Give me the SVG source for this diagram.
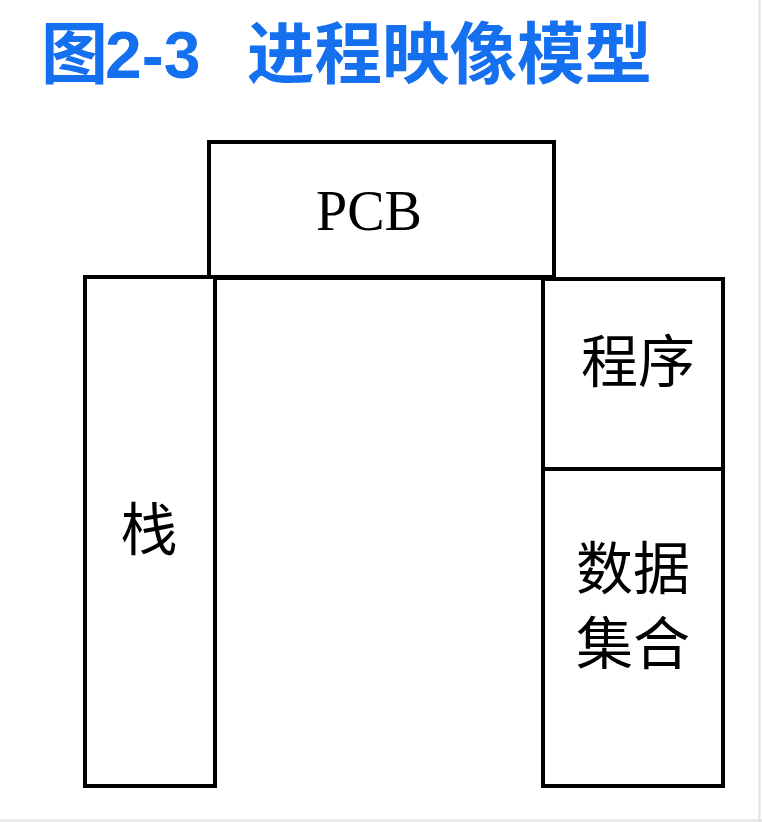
<svg xmlns="http://www.w3.org/2000/svg" width="762" height="822" viewBox="0 0 762 822">
<style>
.box{fill:none;stroke:#000;stroke-width:4}
.title{font-family:"Liberation Sans","Noto Sans CJK SC",sans-serif;font-weight:bold;font-size:66px;fill:#1570EF}
.cjk{font-family:"Noto Sans CJK SC",sans-serif;font-size:57px;fill:#000;text-anchor:middle}
.lat{font-family:"Liberation Serif",serif;font-size:56px;fill:#000;text-anchor:middle}
</style>
<rect x="0" y="0" width="762" height="822" fill="#fff"/>
<line x1="759.5" y1="0" x2="759.5" y2="822" stroke="#e2e2e2" stroke-width="2"/>
<line x1="0" y1="820.5" x2="762" y2="820.5" stroke="#e2e2e2" stroke-width="2"/>
<text class="title" y="78"><tspan x="41" font-size="67">图</tspan><tspan x="105">2-3</tspan><tspan x="247" font-size="67.5">进程映像模型</tspan></text>
<g id="connectors"></g>
<g id="pcb">
<rect class="box" x="209" y="142" width="345" height="135"/>
<text class="lat" x="369" y="230">PCB</text>
</g>
<g id="stack">
<rect class="box" x="85" y="277" width="130" height="509"/>
<text class="cjk" x="149" y="550">栈</text>
</g>
<g id="gap">
<line class="box" x1="215" y1="278" x2="543" y2="278"/>
</g>
<g id="program">
<rect class="box" x="543" y="279" width="180" height="190"/>
<text class="cjk" x="638" y="382">程序</text>
</g>
<g id="data">
<rect class="box" x="543" y="469" width="180" height="317"/>
<text class="cjk" x="633" y="589">数据</text>
<text class="cjk" x="633" y="664">集合</text>
</g>
</svg>
